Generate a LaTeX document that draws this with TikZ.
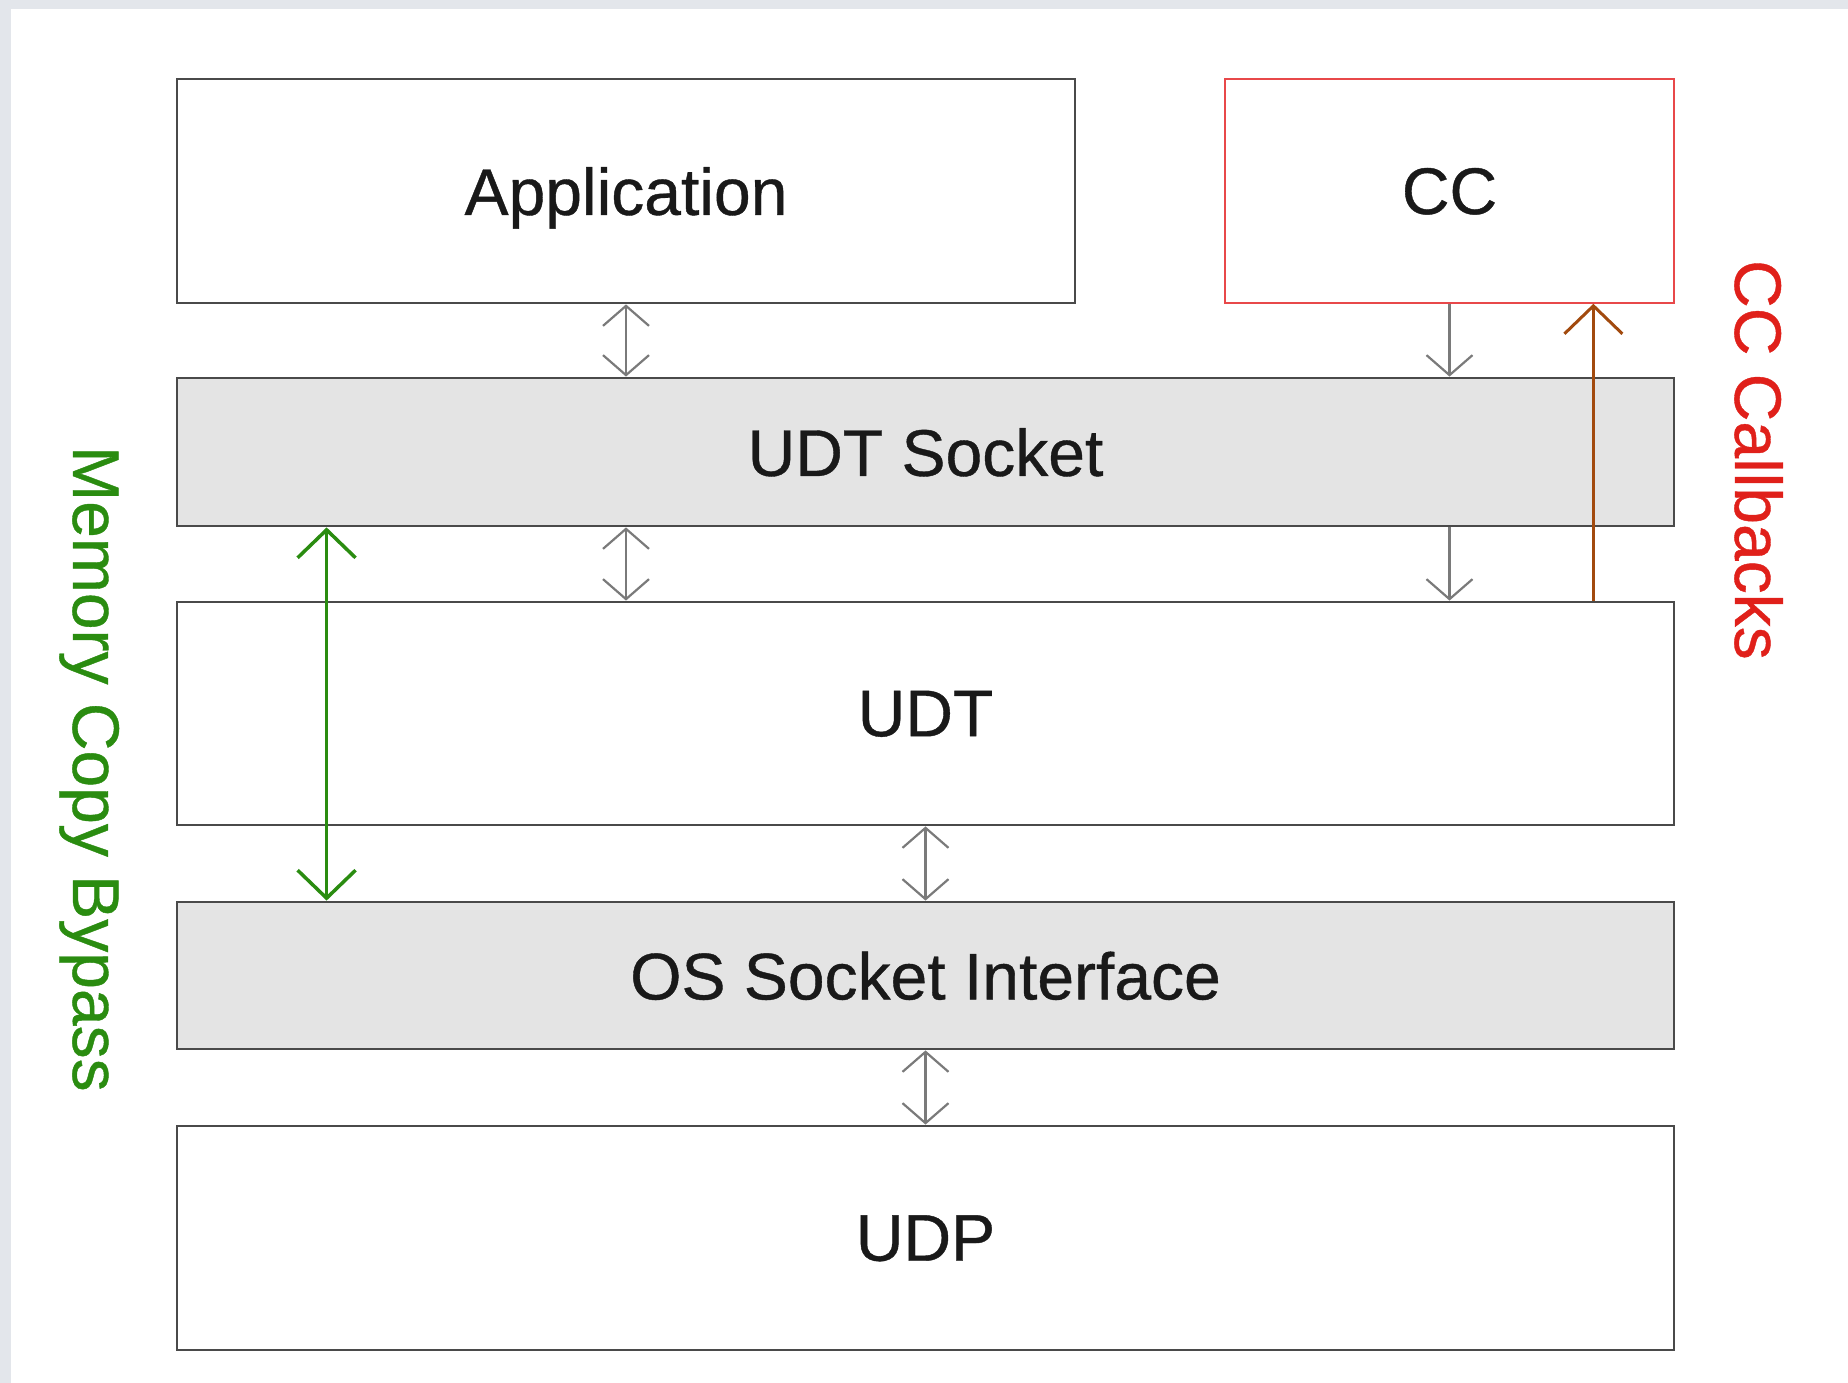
\documentclass[tikz,border=0pt]{standalone}
\usepackage{fontspec}
\setmainfont{Liberation Sans}[BoldFont=Liberation Sans, BoldFeatures={FakeBold=0.6}]
\usetikzlibrary{arrows.meta}
\definecolor{bgout}{HTML}{E3E6EB}
\definecolor{boxline}{HTML}{4A4A4A}
\definecolor{boxgray}{HTML}{E4E4E4}
\definecolor{ccred}{HTML}{E8484A}
\definecolor{txtred}{HTML}{E0201A}
\definecolor{mcgreen}{HTML}{2A8C10}
\definecolor{cbbrown}{HTML}{A24A0E}
\definecolor{arrgray}{HTML}{7A7A7A}
\tikzset{
  layer/.style={draw=boxline, line width=2.8pt, fill=white, minimum width=1497pt,
    inner sep=0pt, text depth=0pt, font=\fontsize{66}{70}\selectfont\bfseries, text=black!90},
  graylayer/.style={layer, fill=boxgray, minimum height=148pt},
  whitelayer/.style={layer, minimum height=224pt},
  grayarrow/.style={draw=arrgray, line width=2.2pt, {Straight Barb[length=20pt,width=46pt,line width=2.2pt]}-{Straight Barb[length=20pt,width=46pt,line width=2.2pt]}},
  grayone/.style={draw=arrgray, line width=2.2pt, -{Straight Barb[length=20pt,width=46pt,line width=2.2pt]}},
  sidelabel/.style={font=\fontsize{66}{70}\selectfont\bfseries, rotate=-90, anchor=base, inner sep=0pt}
}
\begin{document}
\begin{tikzpicture}[x=1pt,y=-1pt]
\useasboundingbox (0,0) rectangle (1848,1383);
\fill[bgout] (0,0) rectangle (1848,1383);
\fill[white] (11,9) rectangle (1848,1383);

\node[whitelayer, minimum width=898pt] (app) at (626,191) {Application};
\node[whitelayer, minimum width=449pt, draw=ccred, line width=1.5pt] (cc) at (1449.5,191) {CC};
\node[graylayer] (sock) at (925.5,452) {UDT Socket};
\node[whitelayer, minimum height=223pt] (udt) at (925.5,713.5) {UDT};
\node[graylayer, minimum height=147pt] (os) at (925.5,975.5) {OS Socket Interface};
\node[whitelayer] (udp) at (925.5,1238) {UDP};

\draw[grayarrow] (app.south) -- (app.south |- sock.north);
\draw[grayarrow] (app.south |- sock.south) -- (app.south |- udt.north);
\draw[grayone] (cc.south) -- (cc.south |- sock.north);
\draw[grayone] (cc.south |- sock.south) -- (cc.south |- udt.north);
\draw[grayarrow] (udt.south) -- (os.north);
\draw[grayarrow] (os.south) -- (udp.north);

\coordinate (cbstart) at ([xshift=-82pt]udt.north east);
\draw[cbbrown, line width=3pt, -{Straight Barb[length=28pt,width=58pt,line width=3pt]}]
  (cbstart) -- (cbstart |- cc.south);

\coordinate (mcstart) at ([xshift=151pt]sock.south west);
\draw[mcgreen, line width=3.5pt, {Straight Barb[length=28pt,width=58pt,line width=3.5pt]}-{Straight Barb[length=28pt,width=58pt,line width=3.5pt]}]
  (mcstart) -- (mcstart |- os.north);

\node[sidelabel, text=mcgreen] (mcb) at (73,769) {Memory Copy Bypass};
\node[sidelabel, text=txtred] (ccb) at (1735,460) {CC Callbacks};
\end{tikzpicture}
\end{document}
